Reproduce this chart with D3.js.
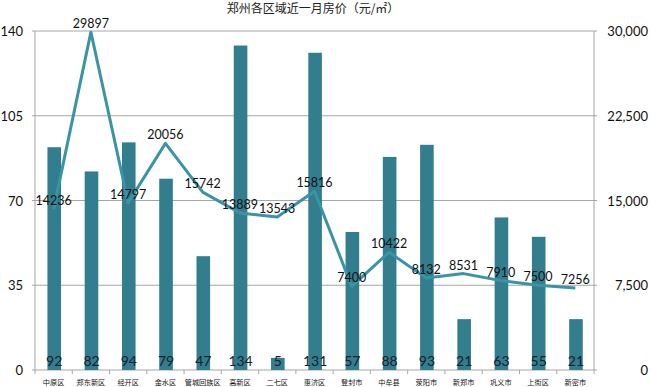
<!DOCTYPE html>
<html>
<head>
<meta charset="utf-8">
<script src="https://cdn.jsdelivr.net/npm/d3@7"></script>
<style>
  body { margin: 0; background: #fff; }
  svg { display: block; }
</style>
</head>
<body>
<div id="chart"></div>
<script>
// categories and values
const districts = ["中原区", "郑东新区", "经开区", "金水区", "管城回族区", "高新区", "二七区", "惠济区",
  "登封市", "中牟县", "荥阳市", "新郑市", "巩义市", "上街区", "新密市"];
const counts = [92, 82, 94, 79, 47, 134, 5, 131, 57, 88, 93, 21, 63, 55, 21];
const prices = [14236, 29897, 14797, 20056, 15742, 13889, 13543, 15816, 7400, 10422, 8132, 8531, 7910, 7500, 7256];
const leftTicks = [0, 35, 70, 105, 140];
const rightTicks = [0, 7500, 15000, 22500, 30000];

const width = 650, height = 387;
const margin = { top: 31, right: 56, bottom: 17, left: 35 };
const cjk = "'Noto Sans CJK SC', sans-serif";
const num = "Lato, 'Open Sans', sans-serif";

let svg = d3.select("#chart")
  .append("svg")
  .attr("width", width)
  .attr("height", height);

let x = d3.scaleBand()
  .domain(districts)
  .range([margin.left, width - margin.right])
  .paddingInner(0)
  .paddingOuter(0);

let yL = d3.scaleLinear().domain([0, 140]).range([height - margin.bottom, margin.top]);
let yR = d3.scaleLinear().domain([0, 30000]).range([height - margin.bottom, margin.top]);

// grid lines
svg.append("g")
  .selectAll("line")
  .data(leftTicks)
  .enter()
  .append("line")
  .attr("x1", margin.left - 3)
  .attr("x2", width - margin.right + 3)
  .attr("y1", d => yL(d))
  .attr("y2", d => yL(d))
  .attr("stroke", "#a6a6a6")
  .attr("stroke-width", 1);

// vertical axis lines
[margin.left, width - margin.right].forEach(px => {
  svg.append("line")
    .attr("x1", px).attr("x2", px)
    .attr("y1", margin.top).attr("y2", height - margin.bottom)
    .attr("stroke", "#a6a6a6");
});

// left axis labels
svg.append("g")
  .selectAll("text")
  .data(leftTicks)
  .enter()
  .append("text")
  .attr("x", 23)
  .attr("y", d => yL(d) + 5)
  .attr("text-anchor", "end")
  .attr("font-family", num)
  .attr("font-size", "13px")
  .attr("fill", "#111")
  .text(d => d);

// right axis labels
svg.append("g")
  .selectAll("text")
  .data(rightTicks)
  .enter()
  .append("text")
  .attr("x", 648)
  .attr("y", d => yR(d) + 5)
  .attr("text-anchor", "end")
  .attr("font-family", num)
  .attr("font-size", "13px")
  .attr("fill", "#111")
  .text(d => d3.format(",")(d));

// x ticks at category boundaries
let bounds = districts.map(d => x(d)).concat([x.range()[1]]);
svg.append("g")
  .selectAll("line")
  .data(bounds)
  .enter()
  .append("line")
  .attr("x1", d => d).attr("x2", d => d)
  .attr("y1", height - margin.bottom)
  .attr("y2", height - margin.bottom + 4)
  .attr("stroke", "#a6a6a6");

// bars
let barW = 13.6;
svg.append("g")
  .selectAll("rect")
  .data(counts)
  .enter()
  .append("rect")
  .attr("x", (d, i) => x(districts[i]) + x.bandwidth() / 2 - barW / 2 + 0.6)
  .attr("y", d => yL(d))
  .attr("width", barW)
  .attr("height", d => yL(0) - yL(d))
  .attr("fill", "#327d8e");

// bar labels
svg.append("g")
  .selectAll("text")
  .data(counts)
  .enter()
  .append("text")
  .attr("x", (d, i) => x(districts[i]) + x.bandwidth() / 2 + 0.6)
  .attr("y", yL(0) - 4)
  .attr("text-anchor", "middle")
  .attr("font-family", num)
  .attr("font-size", "14px")
  .attr("fill", "#16202e")
  .text(d => d);

// price line
let line = d3.line()
  .x((d, i) => x(districts[i]) + x.bandwidth() / 2)
  .y(d => yR(d));

svg.append("path")
  .datum(prices)
  .attr("d", line)
  .attr("fill", "none")
  .attr("stroke", "#3994a7")
  .attr("stroke-width", 3)
  .attr("stroke-linejoin", "round");

// price labels
svg.append("g")
  .selectAll("text")
  .data(prices)
  .enter()
  .append("text")
  .attr("x", (d, i) => x(districts[i]) + x.bandwidth() / 2)
  .attr("y", d => yR(d) - 4)
  .attr("text-anchor", "middle")
  .attr("font-family", num)
  .attr("font-size", "12.5px")
  .attr("fill", "#111")
  .text(d => d);

// x labels
svg.append("g")
  .selectAll("text")
  .data(districts)
  .enter()
  .append("text")
  .attr("x", d => x(d) + x.bandwidth() / 2)
  .attr("y", 385)
  .attr("text-anchor", "middle")
  .attr("font-family", cjk)
  .attr("font-size", "7.2px")
  .attr("fill", "#111")
  .text(d => d);

// title
svg.append("text")
  .attr("x", 313)
  .attr("y", 13)
  .attr("text-anchor", "middle")
  .attr("font-family", cjk)
  .attr("font-size", "12px")
  .attr("fill", "#222")
  .text("郑州各区域近一月房价（元/㎡）");
</script>
</body>
</html>
